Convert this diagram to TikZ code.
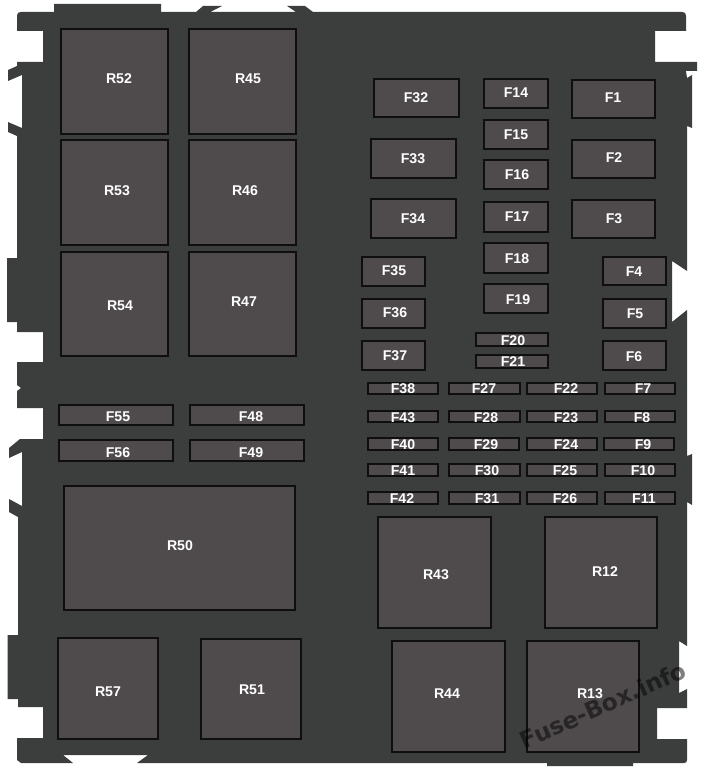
\documentclass[tikz,border=0pt]{standalone}
\usepackage{fontspec}
\setmainfont{Liberation Sans}
\newfontfamily\wmfont{DejaVu Sans}
\definecolor{bodygrey}{HTML}{3C3D3D}
\definecolor{slotgrey}{HTML}{4F4B4C}
\definecolor{slotedge}{HTML}{0F0F0F}
\tikzset{
  boxst/.style={draw=slotedge,fill=slotgrey,line width=1.5pt},
  lbl/.style={text=white,font=\fontsize{10.6}{12}\selectfont\bfseries,inner sep=0pt}
}
% #1 label, #2 #3 #4 #5 outer edges of the box, #6 #7 label centre
\newcommand{\slotbox}[7]{%
  \draw[boxst] ({#2+1},{#3+1}) rectangle ({#4-1},{#5-1});
  \node[lbl] (#1) at (#6,{#7+.8}) {#1};
}
\begin{document}
\begin{tikzpicture}[x=.75pt,y=-.75pt]
\useasboundingbox (0,0) rectangle (700,767);
\fill[bodygrey]
  (17,16) .. controls (17,13) and (18,12) .. (21,12)
  -- (54,12) -- (54,4) -- (161,4) -- (161,12)
  -- (196,12) -- (203,6) -- (222,6) -- (210,12)
  -- (296,12) -- (287,6) -- (305,6) -- (313,12)
  -- (682,12) .. controls (685,12) and (686,13) .. (686,16)
  -- (686,31) -- (655,31) -- (655,62) -- (697,62) -- (697,71) -- (686,71)
  -- (687,78) -- (692,75) -- (692,128) -- (687,126)
  -- (687,271) -- (672,261) -- (672,322) -- (687,310)
  -- (687,456) -- (692,454) -- (692,505) -- (687,502)
  -- (687,646) -- (679,641) -- (679,693) -- (687,689)
  -- (687,708) -- (657,708) -- (657,739) -- (687,739)
  -- (687,760) .. controls (687,762) and (686,763) .. (684,763)
  -- (633,763) -- (633,766) -- (547,766) -- (547,763)
  -- (137,763) -- (148,755) -- (63,755) -- (73,763)
  -- (21,763) -- (17,760)
  -- (17,738) -- (43,738) -- (43,707) -- (18,707) -- (18,699) -- (7.5,699)
  -- (7.5,635) -- (18,635)
  -- (18,517) -- (9,512) -- (9,499) -- (22,506)
  -- (22,452) -- (9,458) -- (9,448) -- (20,439)
  -- (43,439) -- (43,408) -- (17,408) -- (17,391) -- (21,388) -- (17,385)
  -- (17,362) -- (43,362) -- (43,332) -- (17,332) -- (17,322) -- (7,322)
  -- (7,258) -- (17,258)
  -- (17,136) -- (8,132) -- (8,122) -- (22,128)
  -- (22,75) -- (8,81) -- (8,70) -- (17,66) -- (17,62) -- (43,62) -- (43,31) -- (17,31)
  -- cycle;

% Large relays
\slotbox{R52}{60}{28}{169}{135}{119}{78}
\slotbox{R45}{188}{28}{297}{135}{248}{78}
\slotbox{R53}{60}{139}{169}{246}{117}{190}
\slotbox{R46}{188}{139}{297}{246}{245}{190}
\slotbox{R54}{60}{251}{169}{357}{120}{305}
\slotbox{R47}{188}{251}{297}{357}{244}{301}
\slotbox{R50}{63}{485}{296}{611}{180}{545}
\slotbox{R57}{57}{637}{159}{740}{108}{691}
\slotbox{R51}{200}{638}{302}{740}{252}{689}
\slotbox{R43}{377}{516}{492}{629}{436}{574}
\slotbox{R12}{544}{516}{658}{629}{605}{571}
\slotbox{R44}{391}{640}{506}{753}{447}{693}
\slotbox{R13}{526}{640}{640}{753}{590}{693}

% Left wide fuses
\slotbox{F55}{58}{404}{174}{426}{118}{416}
\slotbox{F48}{189}{404}{305}{426}{251}{416}
\slotbox{F56}{58}{439}{174}{462}{118}{452}
\slotbox{F49}{189}{439}{305}{462}{251}{452}

% Upper fuses
\slotbox{F32}{373}{78}{460}{118}{416}{97}
\slotbox{F14}{483}{78}{549}{109}{516}{92}
\slotbox{F1}{571}{79}{656}{119}{613}{97}
\slotbox{F15}{483}{119}{549}{150}{516}{134}
\slotbox{F33}{370}{138}{457}{179}{413}{158}
\slotbox{F2}{571}{139}{656}{179}{614}{157}
\slotbox{F16}{483}{159}{549}{190}{517}{174}
\slotbox{F34}{370}{198}{457}{239}{413}{218}
\slotbox{F3}{571}{199}{656}{239}{614}{218}
\slotbox{F17}{483}{201}{549}{233}{517}{216}
\slotbox{F18}{483}{242}{549}{274}{517}{258}
\slotbox{F35}{361}{256}{426}{287}{394}{270}
\slotbox{F4}{602}{256}{667}{286}{634}{271}
\slotbox{F19}{483}{283}{549}{314}{518}{299}
\slotbox{F36}{361}{298}{426}{329}{395}{312}
\slotbox{F5}{602}{298}{667}{329}{635}{313}
\slotbox{F20}{475}{332}{549}{347}{513}{340}
\slotbox{F21}{475}{354}{549}{369}{513}{361}
\slotbox{F37}{361}{340}{426}{371}{395}{355}
\slotbox{F6}{602}{340}{667}{371}{634}{356}

% Small fuse rows
\slotbox{F38}{367}{382}{439}{395}{403}{388}
\slotbox{F27}{448}{382}{521}{395}{484}{388}
\slotbox{F22}{526}{382}{598}{395}{566}{388}
\slotbox{F7}{604}{382}{676}{395}{643}{388}
\slotbox{F43}{367}{410}{439}{423}{403}{417}
\slotbox{F28}{448}{410}{521}{423}{486}{417}
\slotbox{F23}{526}{410}{598}{423}{566}{417}
\slotbox{F8}{604}{410}{676}{423}{642}{417}
\slotbox{F40}{367}{437}{439}{451}{403}{444}
\slotbox{F29}{448}{437}{520}{451}{486}{444}
\slotbox{F24}{526}{437}{598}{451}{566}{444}
\slotbox{F9}{603}{437}{675}{451}{643}{444}
\slotbox{F41}{367}{463}{439}{477}{403}{470}
\slotbox{F30}{448}{463}{521}{477}{487}{470}
\slotbox{F25}{526}{463}{598}{477}{565}{470}
\slotbox{F10}{604}{463}{676}{477}{643}{470}
\slotbox{F42}{367}{491}{439}{505}{402}{498}
\slotbox{F31}{448}{491}{521}{505}{487}{498}
\slotbox{F26}{526}{491}{598}{505}{565}{498}
\slotbox{F11}{604}{491}{676}{505}{644}{498}

% Watermark
\node[rotate=24,text=black,text opacity=.5,inner sep=0pt,
      font=\wmfont\fontsize{17.5}{21}\selectfont\bfseries] (wm) at (603,705) {Fuse-Box.info};
\end{tikzpicture}
\end{document}
